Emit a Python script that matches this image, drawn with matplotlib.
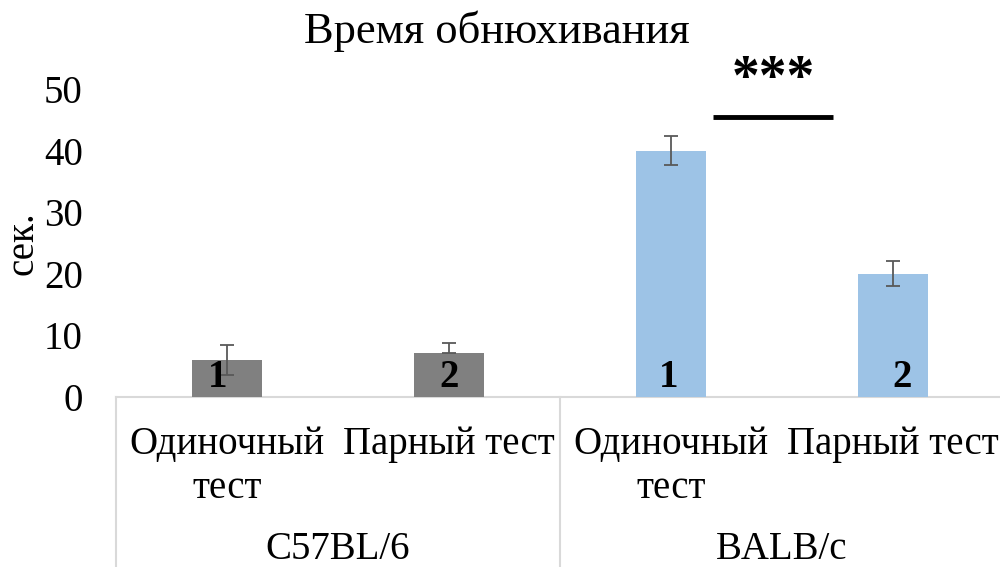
import matplotlib
matplotlib.use("Agg")
import matplotlib.pyplot as plt
import matplotlib.transforms as mtransforms

plt.rcParams['font.family'] = ['Liberation Serif', 'DejaVu Serif']

title = "Время обнюхивания"
ylabel = "сек."
conditions = ["Одиночный\nтест", "Парный тест", "Одиночный\nтест", "Парный тест"]
strains = ["C57BL/6", "BALB/c"]
values = [6.0, 7.2, 40.0, 20.0]
err_low = [2.4, 0.0, 2.4, 2.0]
err_high = [2.4, 1.5, 2.4, 2.0]
bar_numbers = ["1", "2", "1", "2"]
significance = "***"
colors = ["#808080", "#808080", "#9DC3E6", "#9DC3E6"]

fig = plt.figure(figsize=(10, 5.67), dpi=100)
ax = fig.add_axes([0.116, 170 / 567, 0.888, 308 / 567])

x = list(range(len(values)))
ax.bar(x, values, width=0.315, color=colors, zorder=2)
ax.errorbar(x, values, yerr=[err_low, err_high], fmt='none', ecolor='#595959',
            elinewidth=1.3, capsize=5, capthick=1.3, zorder=3)

ax.set_xlim(-0.5, 3.5)
ax.set_ylim(0, 50)
ax.set_yticks([0, 10, 20, 30, 40, 50])
ax.tick_params(axis='y', length=0, labelsize=28, pad=24)
ax.set_xticks([])
for s in ax.spines.values():
    s.set_visible(False)

ax.set_ylabel(ylabel, fontsize=28, labelpad=2)
fig.text(0.497, 0.945, title, ha='center', va='center', fontsize=32)

# baseline and category separators
ax.axhline(0, color='#D9D9D9', lw=1.5, zorder=1, clip_on=False)
trans = mtransforms.blended_transform_factory(ax.transData, ax.transAxes)
for xs in [-0.5, 1.5, 3.5]:
    ax.plot([xs, xs], [0, -0.56], color='#D9D9D9', lw=1.5, transform=trans,
            clip_on=False)

# condition labels and strain labels
for xi, lab in zip(x, conditions):
    ax.text(xi, -0.095, lab, transform=trans, ha='center', va='top',
            fontsize=28, linespacing=1.25)
for i, lab in enumerate(strains):
    ax.text(2 * i + 0.5, -0.495, lab, transform=trans, ha='center',
            va='center', fontsize=28)

# bar numbers
num_dx = [-0.04, 0.0, -0.01, 0.04]
for xi, lab, dx in zip(x, bar_numbers, num_dx):
    ax.text(xi + dx, 1.7, lab, ha='center', va='baseline', fontsize=28,
            fontweight='bold', zorder=4)

# significance bracket between BALB/c bars
ax.plot([2.19, 2.73], [45.5, 45.5], color='black', lw=3.5, clip_on=False,
        solid_capstyle='butt')
ax.text(2.46, 51.5, significance, ha='center', va='center', fontsize=40,
        fontweight='bold', clip_on=False)

fig.savefig("out.png", dpi=100)
